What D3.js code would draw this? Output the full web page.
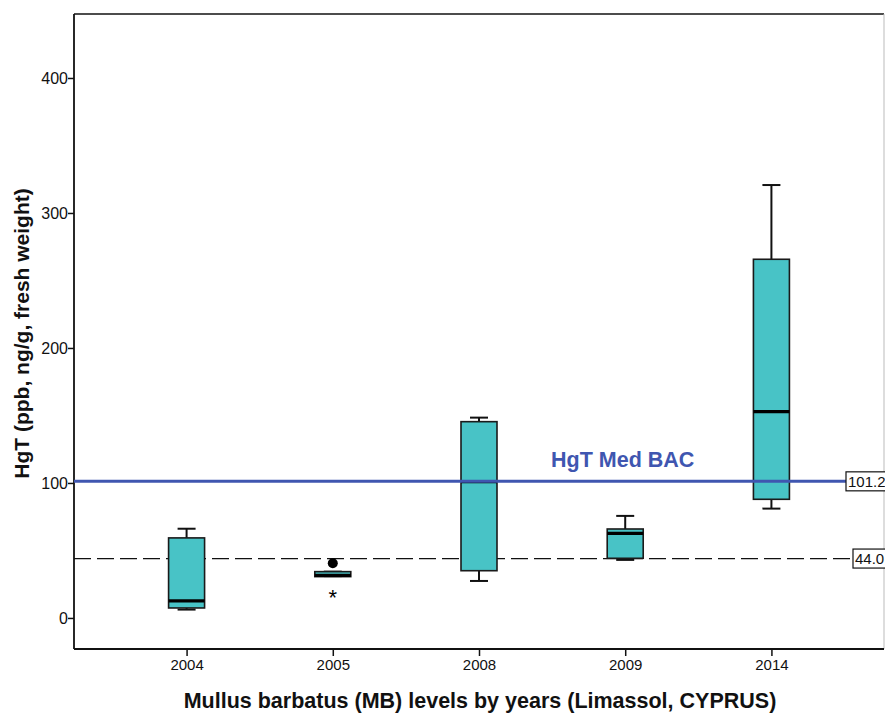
<!DOCTYPE html>
<html><head><meta charset="utf-8">
<script src="https://cdn.jsdelivr.net/npm/d3@7"></script>
<style>body{margin:0;background:#fff;} svg{display:block;font-family:Arial,"Liberation Sans",sans-serif;}</style>
</head><body>
<svg id="c" width="885" height="713"></svg>
<script>
const years = ["2004","2005","2008","2009","2014"];
const whiskerLow  = [6.2, 31.0, 27.4, 43.0, 81.0];
const q1          = [7.4, 30.6, 35.0, 44.2, 87.9];
const median      = [12.6, 31.5, 101.0, 62.7, 152.8];
const q3          = [59.3, 34.3, 145.4, 65.9, 265.7];
const whiskerHigh = [66.1, 34.3, 148.4, 75.6, 320.7];
const outlierCircles = [{year:"2005", value:40.5}];
const outlierStars   = [{year:"2005", value:18.5}];
const refBAC = 101.2;
const refDash = 44.0;
const yTicks = [0,100,200,300,400];

const svg = d3.select("#c");
const L=74, R=884, T=14, B=649;
const x = d3.scalePoint().domain(years).range([L,R]).padding(0.77);
const y = d3.scaleLinear().domain([-23, 447.4]).range([B,T]);
const bw = 36;
const FF = "Arial,'Liberation Sans',sans-serif";

// frame
svg.append("line").attr("x1",L).attr("x2",R).attr("y1",T).attr("y2",T).attr("stroke","#111").attr("stroke-width",1.6);
svg.append("line").attr("x1",R).attr("x2",R).attr("y1",T).attr("y2",B).attr("stroke","#bbb").attr("stroke-width",1);

// axes
const ya = svg.append("g").attr("transform",`translate(${L},0)`)
  .call(d3.axisLeft(y).tickValues(yTicks).tickSize(6).tickSizeOuter(0).tickFormat(d3.format("d")));
ya.select(".domain").attr("stroke","#111").attr("stroke-width",1.8).attr("d",`M0,${T}V${B}`);
ya.selectAll(".tick line").attr("stroke","#111").attr("stroke-width",1.5);
ya.selectAll(".tick text").attr("font-size",16).attr("fill","#111").attr("x",-6).attr("font-family",FF);

const xa = svg.append("g").attr("transform",`translate(0,${B})`)
  .call(d3.axisBottom(x).tickSize(7).tickSizeOuter(0));
xa.select(".domain").attr("stroke","#111").attr("stroke-width",1.8).attr("d",`M${L},0H${R}`);
xa.selectAll(".tick line").attr("stroke","#111").attr("stroke-width",1.5);
xa.selectAll(".tick text").attr("font-size",15).attr("fill","#111").attr("y",10).attr("font-family",FF);

// dashed ref line
svg.append("line").attr("x1",L).attr("x2",853).attr("y1",y(refDash)).attr("y2",y(refDash))
  .attr("stroke","#111").attr("stroke-width",1.3).attr("stroke-dasharray","17,6");

// boxes
const g = svg.append("g");
years.forEach((yr,i)=>{
  const cx = x(yr);
  g.append("line").attr("x1",cx).attr("x2",cx).attr("y1",y(whiskerHigh[i])).attr("y2",y(q3[i])).attr("stroke","#111").attr("stroke-width",2);
  g.append("line").attr("x1",cx).attr("x2",cx).attr("y1",y(whiskerLow[i])).attr("y2",y(q1[i])).attr("stroke","#111").attr("stroke-width",2);
  g.append("line").attr("x1",cx-bw/4).attr("x2",cx+bw/4).attr("y1",y(whiskerHigh[i])).attr("y2",y(whiskerHigh[i])).attr("stroke","#111").attr("stroke-width",2);
  g.append("line").attr("x1",cx-bw/4).attr("x2",cx+bw/4).attr("y1",y(whiskerLow[i])).attr("y2",y(whiskerLow[i])).attr("stroke","#111").attr("stroke-width",2);
  g.append("rect").attr("x",cx-bw/2).attr("width",bw).attr("y",y(q3[i])).attr("height",Math.max(1,y(q1[i])-y(q3[i])))
    .attr("fill","#48C3C6").attr("stroke","#1a1a1a").attr("stroke-width",1.6);
  g.append("line").attr("x1",cx-bw/2).attr("x2",cx+bw/2).attr("y1",y(median[i])).attr("y2",y(median[i])).attr("stroke","#000").attr("stroke-width",3.2);
});

// outliers
outlierCircles.forEach(o=>{
  svg.append("circle").attr("cx",x(o.year)).attr("cy",y(o.value)).attr("r",5).attr("fill","#000");
});
outlierStars.forEach(o=>{
  svg.append("text").attr("x",x(o.year)).attr("y",y(o.value)).attr("dy","0.55em").attr("text-anchor","middle")
    .attr("font-size",22).attr("fill","#000").text("*");
});

// blue BAC line
svg.append("line").attr("x1",L).attr("x2",846).attr("y1",y(refBAC)).attr("y2",y(refBAC))
  .attr("stroke","#3F56B0").attr("stroke-width",3);
svg.append("text").attr("x",551).attr("y",y(refBAC)-14).attr("font-size",21.5).attr("font-weight","bold")
  .attr("fill","#3F56B0").text("HgT Med BAC");

// ref labels
function refLabel(v, x0, txt){
  const yy = y(v);
  svg.append("rect").attr("x",x0).attr("y",yy-9.5).attr("width",R+6-x0).attr("height",19)
    .attr("fill","#fff").attr("stroke","#111").attr("stroke-width",1.2);
  svg.append("text").attr("x",x0+2).attr("y",yy).attr("dy","0.36em").attr("font-size",15).attr("fill","#111").text(txt);
}
refLabel(refBAC, 846, "101.2");
refLabel(refDash, 853, "44.0");

// titles
svg.append("text").attr("transform",`translate(29,${(T+B)/2+2}) rotate(-90)`).attr("text-anchor","middle")
  .attr("font-size",21).attr("font-weight","bold").attr("fill","#111").text("HgT (ppb, ng/g, fresh weight)");
svg.append("text").attr("x",480).attr("y",708).attr("text-anchor","middle")
  .attr("font-size",21.5).attr("font-weight","bold").attr("fill","#111").text("Mullus barbatus (MB) levels by years (Limassol, CYPRUS)");
</script>
</body></html>
